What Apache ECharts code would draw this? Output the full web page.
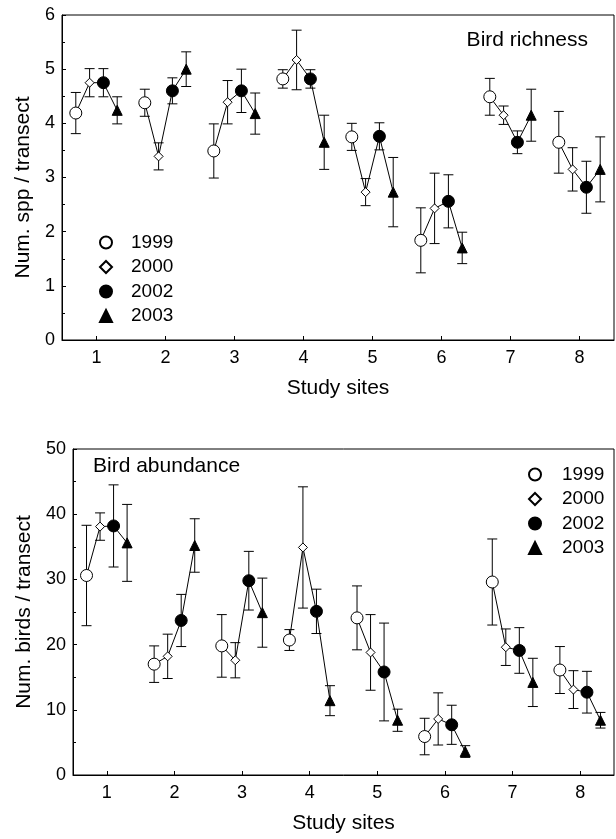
<!DOCTYPE html>
<html>
<head>
<meta charset="utf-8">
<script src="https://cdn.jsdelivr.net/npm/echarts@6/dist/echarts.min.js"></script>
<style>
html,body{margin:0;padding:0;background:#fff;}
#chart{width:616px;height:839px;}
</style>
</head>
<body>
<div id="chart"></div>
<script>
// ---- data ----
const sites = [1, 2, 3, 4, 5, 6, 7, 8];
const years = ['1999', '2000', '2002', '2003'];

// Bird richness (Num. spp / transect): means and error half-widths
const rich1999 = [4.19, 4.38, 3.49, 4.82, 3.75, 1.84, 4.49, 3.65];
const rich2000 = [4.75, 3.39, 4.39, 5.17, 2.73, 2.43, 4.15, 3.15];
const rich2002 = [4.75, 4.60, 4.60, 4.82, 3.76, 2.56, 3.65, 2.82];
const rich2003 = [4.24, 5.00, 4.18, 3.65, 2.73, 1.70, 4.15, 3.15];
const richErr1999 = [0.38, 0.25, 0.50, 0.17, 0.25, 0.60, 0.34, 0.57];
const richErr2000 = [0.26, 0.25, 0.40, 0.55, 0.25, 0.65, 0.17, 0.40];
const richErr2002 = [0.26, 0.24, 0.40, 0.17, 0.25, 0.49, 0.21, 0.48];
const richErr2003 = [0.25, 0.32, 0.38, 0.50, 0.64, 0.29, 0.48, 0.60];

// Bird abundance (Num. birds / transect)
const abun1999 = [30.6, 17.0, 19.8, 20.7, 24.1, 5.9, 29.6, 16.1];
const abun2000 = [38.1, 18.2, 17.6, 34.9, 18.8, 8.6, 19.6, 13.1];
const abun2002 = [38.2, 23.7, 29.8, 25.1, 15.8, 7.7, 19.1, 12.7];
const abun2003 = [35.6, 35.2, 24.9, 11.4, 8.4, 3.6, 14.2, 8.4];
const abunErr1999 = [7.7, 2.8, 4.8, 1.6, 4.9, 2.8, 6.6, 3.6];
const abunErr2000 = [2.1, 3.4, 2.7, 9.3, 5.8, 4.0, 2.8, 2.9];
const abunErr2002 = [6.3, 4.0, 4.5, 3.4, 7.5, 3.0, 3.5, 3.2];
const abunErr2003 = [5.9, 4.1, 5.3, 2.3, 1.7, 0.9, 3.7, 1.2];

const richTicks = [0, 1, 2, 3, 4, 5, 6];
const abunTicks = [0, 10, 20, 30, 40, 50];

// ---- build ----
const FONT = "'Liberation Sans', Arial, Helvetica, sans-serif";
const offsets = [-0.3, -0.1, 0.1, 0.3];
const richMeans = [rich1999, rich2000, rich2002, rich2003];
const richErrs = [richErr1999, richErr2000, richErr2002, richErr2003];
const abunMeans = [abun1999, abun2000, abun2002, abun2003];
const abunErrs = [abunErr1999, abunErr2000, abunErr2002, abunErr2003];

const markerStyles = [
  {symbol: 'circle', symbolSize: 12, itemStyle: {color: '#fff', borderColor: '#000', borderWidth: 1, opacity: 1}},
  {symbol: 'diamond', symbolSize: 9, itemStyle: {color: '#fff', borderColor: '#000', borderWidth: 1, opacity: 1}},
  {symbol: 'circle', symbolSize: 12, itemStyle: {color: '#000', borderColor: '#000', borderWidth: 1, opacity: 1}},
  {symbol: 'triangle', symbolSize: 10, itemStyle: {color: '#000', borderColor: '#000', borderWidth: 1, opacity: 1}}
];

function errorRender(params, api) {
  const x = api.value(0), lo = api.value(1), hi = api.value(2);
  const pLo = api.coord([x, lo]);
  const pHi = api.coord([x, hi]);
  const w = 5;
  const style = {stroke: '#000', lineWidth: 1, fill: null};
  return {
    type: 'group',
    children: [
      {type: 'line', shape: {x1: pLo[0], y1: pLo[1], x2: pHi[0], y2: pHi[1]}, style: style},
      {type: 'line', shape: {x1: pLo[0] - w, y1: pLo[1], x2: pLo[0] + w, y2: pLo[1]}, style: style},
      {type: 'line', shape: {x1: pHi[0] - w, y1: pHi[1], x2: pHi[0] + w, y2: pHi[1]}, style: style}
    ]
  };
}

const series = [];
function addPanel(idx, means, errs) {
  const errData = [];
  years.forEach((y, i) => {
    sites.forEach((s, j) => {
      errData.push([s + offsets[i], means[i][j] - errs[i][j], means[i][j] + errs[i][j]]);
    });
  });
  series.push({
    type: 'custom', xAxisIndex: idx, yAxisIndex: idx, z: 1, silent: true,
    renderItem: errorRender, data: errData, encode: {x: 0, y: [1, 2]}
  });
  sites.forEach((s, j) => {
    series.push({
      type: 'line', xAxisIndex: idx, yAxisIndex: idx, z: 2, silent: true,
      symbol: 'none', lineStyle: {color: '#000', width: 1},
      data: years.map((y, i) => [s + offsets[i], means[i][j]])
    });
  });
  years.forEach((y, i) => {
    series.push(Object.assign({
      type: 'scatter', name: y, xAxisIndex: idx, yAxisIndex: idx, z: 3,
      data: sites.map((s, j) => [s + offsets[i], means[i][j]])
    }, JSON.parse(JSON.stringify(markerStyles[i]))));
  });
}
addPanel(0, richMeans, richErrs);
addPanel(1, abunMeans, abunErrs);

function xAxis(gridIndex, nameGap) {
  return {
    type: 'value', gridIndex: gridIndex, min: 0.5, max: 8.5,
    name: 'Study sites', nameLocation: 'middle', nameGap: nameGap,
    nameTextStyle: {fontFamily: FONT, fontSize: 21, color: '#000'},
    axisLine: {show: true, onZero: false, lineStyle: {color: '#000', width: 1}},
    axisTick: {show: true, inside: true, length: 4, customValues: sites, lineStyle: {color: '#000'}},
    axisLabel: {show: true, customValues: sites, fontFamily: FONT, fontSize: 18, color: '#000', margin: 9},
    splitLine: {show: false}
  };
}
function yAxis(gridIndex, max, interval, name, nameGap, namePad) {
  return {
    type: 'value', gridIndex: gridIndex, min: 0, max: max, interval: interval,
    name: name, nameLocation: 'middle', nameGap: nameGap, nameRotate: 90,
    nameTextStyle: {fontFamily: FONT, fontSize: 21, color: '#000', padding: namePad},
    axisLine: {show: true, onZero: false, lineStyle: {color: '#000', width: 1}},
    axisTick: {show: true, inside: true, length: 4, lineStyle: {color: '#000'}},
    minorTick: {show: true, splitNumber: 2, length: 3, lineStyle: {color: '#000'}},
    axisLabel: {fontFamily: FONT, fontSize: 18, color: '#000', margin: 7},
    splitLine: {show: false}
  };
}

function legend(left, top, padLeft) {
  return {
    orient: 'vertical', left: left, top: top, itemWidth: 12, itemHeight: 12, itemGap: 5.5,
    data: years, selectedMode: false,
    textStyle: {fontFamily: FONT, fontSize: 19, color: '#000', padding: [0, 0, 0, padLeft]}
  };
}

const option = {
  backgroundColor: '#fff',
  animation: false,
  title: [
    {text: 'Bird richness', right: 23, top: 25, textStyle: {fontFamily: FONT, fontSize: 21, fontWeight: 'normal', color: '#000'}},
    {text: 'Bird abundance', left: 88, top: 451, textStyle: {fontFamily: FONT, fontSize: 21, fontWeight: 'normal', color: '#000'}}
  ],
  legend: [legend(94, 228, 14), legend(523, 460, 16)],
  grid: [
    {left: 62, right: 2, top: 15, height: 325, show: true, borderColor: '#000', borderWidth: 1, backgroundColor: 'transparent'},
    {left: 73, right: 2, top: 449, height: 326, show: true, borderColor: '#000', borderWidth: 1, backgroundColor: 'transparent'}
  ],
  xAxis: [xAxis(0, 38), xAxis(1, 38)],
  yAxis: [
    yAxis(0, 6, 1, 'Num. spp / transect', 24, [0, 20, 0, 0]),
    yAxis(1, 50, 10, 'Num. birds / transect', 36, [0, 0, 0, 0])
  ],
  series: series
};

const chart = echarts.init(document.getElementById('chart'), null, {renderer: 'canvas'});
chart.setOption(option);
</script>
</body>
</html>
